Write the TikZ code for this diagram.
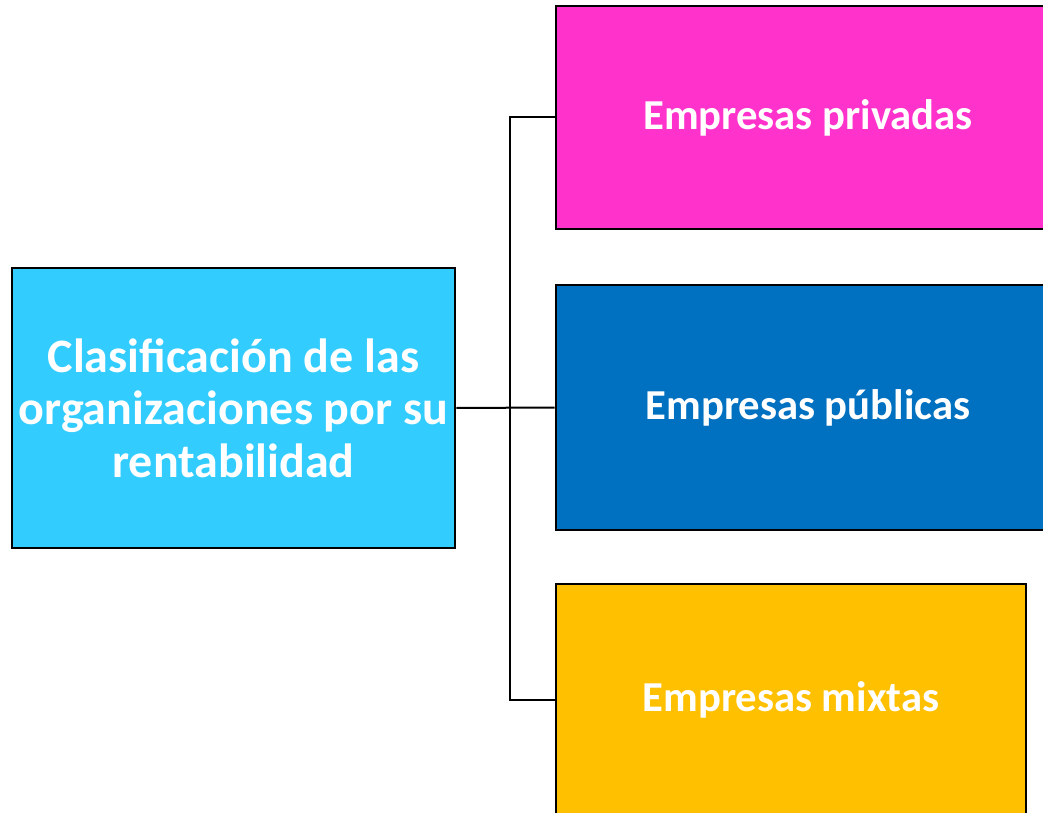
\documentclass[tikz,border=0pt]{standalone}
\usepackage{fontspec}
\setmainfont{Carlito}

\definecolor{cielo}{RGB}{51,204,255}
\definecolor{rosa}{RGB}{255,51,204}
\definecolor{azul}{RGB}{0,112,192}
\definecolor{oro}{RGB}{255,192,0}

\tikzset{every picture/.style={line width=0.75pt}}

\begin{document}
\begin{tikzpicture}[x=0.75pt,y=0.75pt,yscale=-1,xscale=1,
	caja/.style={draw=black, line width=2pt, align=center, text=white,
		font=\bfseries\fontsize{32}{38}\selectfont, inner sep=0pt},
	linea/.style={line width=1.5pt}]
	\useasboundingbox (0,0) rectangle (1043,813);
	\clip (0,0) rectangle (1043,813);

	% Main Box
	\node [caja, fill=cielo, minimum width=332.25pt, minimum height=210pt,
		font=\bfseries\fontsize{36}{39.4}\selectfont] (main) at (233.5,408) {Clasificación de las\\organizaciones por su\\rentabilidad};
	% Right Boxes
	\node [caja, fill=rosa, minimum width=378pt, minimum height=167.25pt] (privadas) at (808,117.5) {\raisebox{-2pt}{Empresas privadas}};
	\node [caja, fill=azul, minimum width=378pt, minimum height=183.75pt] (publicas) at (808,407.5) {\raisebox{-2pt}{Empresas públicas}};
	\node [caja, fill=oro, minimum width=352.5pt, minimum height=174pt] (mixtas) at (791,700) {\raisebox{-2pt}{Empresas mixtas}};

	% Bus
	\coordinate (bustop) at (510,117.5);
	\coordinate (busbot) at (510,700);
	\draw [linea] (privadas.west) -- (bustop) -- (busbot) -- (mixtas.west);
	\draw [linea] (main.east) -- (publicas.west);

\end{tikzpicture}
\end{document}
